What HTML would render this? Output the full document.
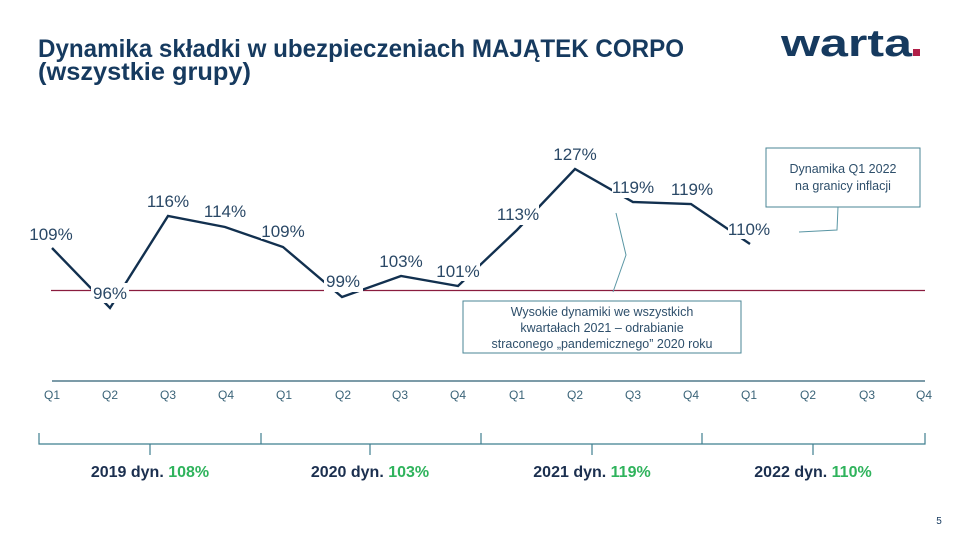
<!DOCTYPE html>
<html><head><meta charset="utf-8"><style>
html,body{margin:0;padding:0;background:#fff;}
svg{display:block;font-family:"Liberation Sans",sans-serif;}
</style></head><body>
<svg width="960" height="540" viewBox="0 0 960 540" xmlns="http://www.w3.org/2000/svg">
<rect width="960" height="540" fill="#fff"/>
<!-- title -->
<text x="38" y="57" font-size="25" font-weight="bold" fill="#163a5f" textLength="646" lengthAdjust="spacingAndGlyphs">Dynamika składki w ubezpieczeniach MAJĄTEK CORPO</text>
<text x="38" y="80" font-size="25" font-weight="bold" fill="#163a5f" textLength="213" lengthAdjust="spacingAndGlyphs">(wszystkie grupy)</text>
<!-- logo -->
<text x="781" y="56" font-size="38" font-weight="bold" fill="#163a5f" textLength="131" lengthAdjust="spacingAndGlyphs">warta</text>
<rect x="913" y="49" width="7" height="7" fill="#b01f48"/>

<!-- reference line 100% -->
<line x1="51" y1="290.5" x2="925" y2="290.5" stroke="#8a1c3e" stroke-width="1.3"/>

<!-- series -->
<polyline fill="none" stroke="#12304f" stroke-width="2.4" stroke-linejoin="miter"
points="52,248 110,308 168,216 225,227 283,247 342,297 401,276 458,286 517,230 575,169 633,202 691,204 750,244"/>

<!-- labels with white background -->
<g font-size="17" fill="#2a4866" text-anchor="middle">
<rect x="29" y="224" width="44" height="20" fill="#fff"/><text x="51" y="240">109%</text>
<rect x="91" y="283" width="38" height="20" fill="#fff"/><text x="110" y="299">96%</text>
<rect x="147" y="191" width="43" height="18" fill="#fff"/><text x="168" y="207">116%</text>
<rect x="204" y="201" width="43" height="18" fill="#fff"/><text x="225" y="217">114%</text>
<rect x="261" y="221" width="44" height="18" fill="#fff"/><text x="283" y="237">109%</text>
<rect x="324" y="271" width="39" height="21" fill="#fff"/><text x="343" y="287">99%</text>
<rect x="380" y="251" width="43" height="18" fill="#fff"/><text x="401" y="267">103%</text>
<rect x="437" y="261" width="43" height="20" fill="#fff"/><text x="458" y="277">101%</text>
<rect x="497" y="204" width="42" height="21" fill="#fff"/><text x="518" y="220">113%</text>
<rect x="554" y="144" width="43" height="18" fill="#fff"/><text x="575" y="160">127%</text>
<rect x="612" y="177" width="42" height="21" fill="#fff"/><text x="633" y="193">119%</text>
<rect x="671" y="179" width="42" height="18" fill="#fff"/><text x="692" y="195">119%</text>
<rect x="728" y="219" width="43" height="20" fill="#fff"/><text x="749" y="235">110%</text>
</g>

<!-- annotation 1 -->
<rect x="766" y="148" width="154" height="59" fill="#fff" stroke="#4a8595" stroke-width="1"/>
<g font-size="12.5" fill="#2e4f6b" text-anchor="middle">
<text x="843" y="173">Dynamika Q1 2022</text>
<text x="843" y="190">na granicy inflacji</text>
</g>
<polyline fill="none" stroke="#5a96a4" stroke-width="1" points="838,207 837,230 799,232"/>

<!-- annotation 2 -->
<polyline fill="none" stroke="#5a96a4" stroke-width="1" points="616,213 626,255 613,292"/>
<rect x="463" y="301" width="278" height="52" fill="#fff" stroke="#4a8595" stroke-width="1"/>
<g font-size="12.5" fill="#2e4f6b" text-anchor="middle">
<text x="602" y="316">Wysokie dynamiki we wszystkich</text>
<text x="602" y="332">kwartałach  2021 – odrabianie</text>
<text x="602" y="348">straconego  „pandemicznego”  2020 roku</text>
</g>

<!-- axis -->
<line x1="52" y1="381" x2="925" y2="381" stroke="#2d5f73" stroke-width="1.2"/>
<g font-size="12" fill="#3a6378" text-anchor="middle">
<text x="52" y="399">Q1</text><text x="110" y="399">Q2</text><text x="168" y="399">Q3</text><text x="226" y="399">Q4</text>
<text x="284" y="399">Q1</text><text x="343" y="399">Q2</text><text x="400" y="399">Q3</text><text x="458" y="399">Q4</text>
<text x="517" y="399">Q1</text><text x="575" y="399">Q2</text><text x="633" y="399">Q3</text><text x="691" y="399">Q4</text>
<text x="749" y="399">Q1</text><text x="808" y="399">Q2</text><text x="867" y="399">Q3</text><text x="924" y="399">Q4</text>
</g>

<!-- brackets -->
<g fill="none" stroke="#3f7f8f" stroke-width="1.2">
<polyline points="39,433 39,444 925,444 925,433"/>
<line x1="261" y1="433" x2="261" y2="444"/>
<line x1="481" y1="433" x2="481" y2="444"/>
<line x1="702" y1="433" x2="702" y2="444"/>
<line x1="150" y1="444" x2="150" y2="455"/>
<line x1="370" y1="444" x2="370" y2="455"/>
<line x1="592" y1="444" x2="592" y2="455"/>
<line x1="813" y1="444" x2="813" y2="455"/>
</g>

<g font-size="16" font-weight="bold" text-anchor="middle">
<text x="150" y="477" fill="#1b2f4f">2019 dyn. <tspan fill="#2fb35c">108%</tspan></text>
<text x="370" y="477" fill="#1b2f4f">2020 dyn. <tspan fill="#2fb35c">103%</tspan></text>
<text x="592" y="477" fill="#1b2f4f">2021 dyn. <tspan fill="#2fb35c">119%</tspan></text>
<text x="813" y="477" fill="#1b2f4f">2022 dyn. <tspan fill="#2fb35c">110%</tspan></text>
</g>

<text x="939" y="524" font-size="10" fill="#163a5f" text-anchor="middle">5</text>
</svg>
</body></html>
